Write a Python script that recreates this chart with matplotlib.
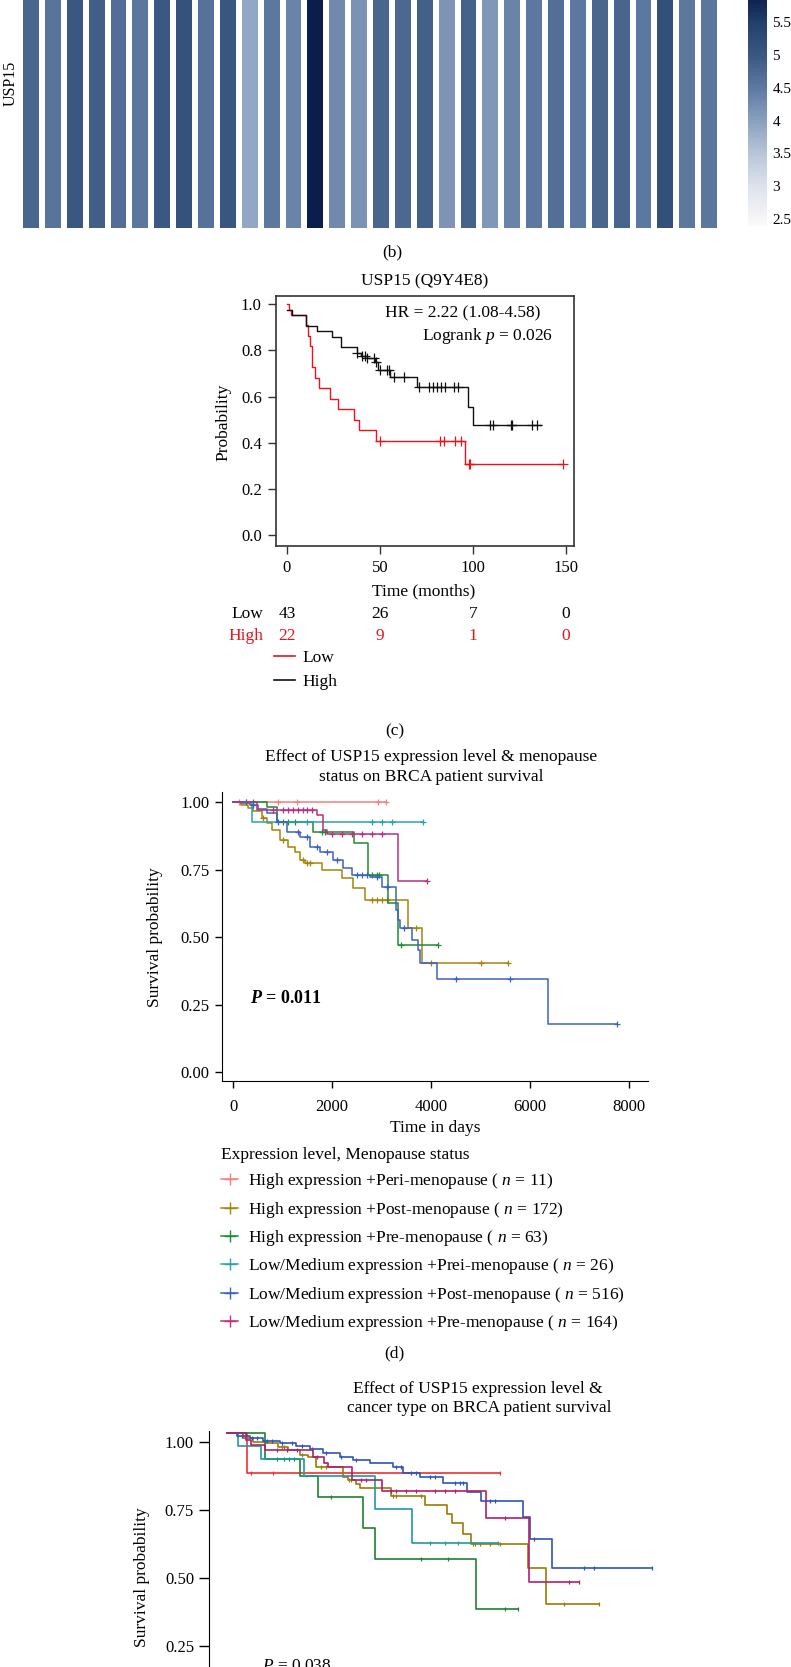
import numpy as np
import matplotlib
matplotlib.use("Agg")
import matplotlib.pyplot as plt
from matplotlib.colors import LinearSegmentedColormap, Normalize
from matplotlib.lines import Line2D
from matplotlib.transforms import blended_transform_factory

plt.rcParams['font.family'] = ['Liberation Serif', 'DejaVu Serif']
plt.rcParams['mathtext.fontset'] = 'custom'
plt.rcParams['mathtext.rm'] = 'Liberation Serif'
plt.rcParams['mathtext.it'] = 'Liberation Serif:italic'
plt.rcParams['mathtext.bf'] = 'Liberation Serif:bold'
plt.rcParams['mathtext.bfit'] = 'Liberation Serif:italic:bold'

# ---- data ----
# (b) USP15 expression heatmap, one cell per sample
heat_vals = [4.78, 4.57, 5.02, 4.90, 4.66, 4.53, 5.00, 5.12, 4.60, 5.05, 3.90, 4.52,
             4.35, 5.92, 4.28, 4.18, 4.78, 4.75, 4.88, 4.15, 4.85, 4.12, 4.35, 4.50,
             4.65, 4.50, 4.78, 4.80, 4.50, 5.15, 4.52, 4.55]
cbar_ticks = [2.5, 3, 3.5, 4, 4.5, 5, 5.5]

# (c) Kaplan-Meier, months
c_low_t = [0, 1, 2.5, 10.4, 11.2, 12.2, 13.5, 14.9, 17.4, 23.3, 27.6, 35.9, 38.8, 48.1, 96, 148.7]
c_low_s = [1.0, 0.977, 0.954, 0.909, 0.864, 0.818, 0.727, 0.682, 0.636, 0.591, 0.545, 0.5, 0.455, 0.409, 0.307, 0.307]
c_low_cens = [49.9, 82.2, 84.4, 90.7, 93.7, 97.8, 98.7, 148.7]
c_high_t = [0, 2.7, 10.4, 16.2, 24.2, 29.1, 38, 39.8, 43, 47.6, 48.8, 55.3, 70, 97.3, 100, 136.8]
c_high_s = [0.977, 0.954, 0.907, 0.884, 0.86, 0.814, 0.79, 0.777, 0.766, 0.748, 0.716, 0.684, 0.64, 0.555, 0.476, 0.476]
c_high_cens = [38, 40.4, 42.2, 43, 46.7, 48.1, 50.3, 53.9, 55.2, 57.8, 63.2, 70.9, 76.3, 78.6,
               80.8, 83, 85.3, 90.1, 91.9, 109.5, 110.8, 120.6, 121.2, 132, 134.6]
risk_times = [0, 50, 100, 150]
risk_low = [43, 26, 7, 0]
risk_high = [22, 9, 1, 0]

# (d) menopause status, days
d_labels = ['High expression +Peri-menopause ( $n$ = 11)',
            'High expression +Post-menopause ( $n$ = 172)',
            'High expression +Pre-menopause ( $n$ = 63)',
            'Low/Medium expression +Prei-menopause ( $n$ = 26)',
            'Low/Medium expression +Post-menopause ( $n$ = 516)',
            'Low/Medium expression +Pre-menopause ( $n$ = 164)']
d_colors = ['#F47F80', '#A4840A', '#1E8C32', '#2AA3A8', '#3D62BE', '#B8307F']
d_times = [
    [0, 3080],
    [0, 150, 300, 404, 573, 675, 776, 944, 1112, 1247, 1349, 1450, 1787, 2191, 2426, 2663, 3538, 3808, 5560],
    [0, 675, 890, 1618, 2440, 2730, 3134, 3336, 4145],
    [0, 378, 3829],
    [0, 150, 338, 500, 675, 877, 1080, 1349, 1551, 1753, 2022, 2224, 2393, 2764, 3000, 3290, 3336,
     3370, 3606, 3741, 3774, 4111, 6369, 7751],
    [0, 473, 1686, 1820, 1888, 3336, 3910],
]
d_surv = [
    [1.0, 1.0],
    [1.0, 0.99, 0.978, 0.966, 0.94, 0.921, 0.896, 0.859, 0.835, 0.816, 0.785, 0.773, 0.748, 0.718,
     0.681, 0.637, 0.533, 0.403, 0.403],
    [1.0, 0.98, 0.927, 0.888, 0.847, 0.73, 0.625, 0.471, 0.471],
    [1.0, 0.927, 0.927],
    [1.0, 0.995, 0.989, 0.975, 0.958, 0.927, 0.89, 0.872, 0.835, 0.816, 0.785, 0.755, 0.73, 0.724,
     0.687, 0.60, 0.563, 0.533, 0.489, 0.452, 0.403, 0.344, 0.179, 0.179],
    [1.0, 0.97, 0.95, 0.896, 0.88, 0.708, 0.708],
]
d_cens = [
    [120, 250, 910, 1280, 2920, 3080],
    [600, 1000, 1400, 1500, 1550, 2800, 2900, 3000, 3100, 3700, 4000, 5000, 5560],
    [250, 400, 1000, 1100, 1250, 1800, 1850, 2800, 2900, 2950, 3400, 4145],
    [1500, 2800, 3000, 3200, 3829],
    [400, 900, 1300, 1500, 1700, 1900, 2100, 2500, 2600, 2700, 2900, 3100, 3450, 4500, 5600, 7751],
    [800, 1000, 1100, 1200, 1300, 1400, 1500, 1600, 2000, 2200, 2400, 2600, 2800, 3000, 3910],
]

# (e) cancer type, days
e_colors = ['#EE3030', '#9C7A05', '#1E8030', '#1E9AA0', '#2E55B5', '#B0206E']
e_times = [
    [0, 396, 5501],
    [0, 316, 517, 788, 1022, 1225, 1461, 1628, 1798, 2335, 2437, 2606, 2673, 3313, 3986, 4424, 4525,
     4761, 4909, 6073, 6430, 7501],
    [0, 768, 1475, 1831, 2735, 2976, 5010, 5871],
    [0, 214, 687, 1541, 2976, 3737, 5467],
    [0, 200, 450, 720, 1057, 1393, 1663, 1932, 2269, 2538, 2875, 3346, 3548, 3885, 4356, 4845, 5111,
     5972, 6107, 6545, 8578],
    [0, 384, 485, 768, 1730, 1945, 2033, 2518, 3131, 5212, 6087, 7097],
]
e_surv = [
    [1.0, 0.853, 0.853],
    [1.0, 0.982, 0.969, 0.963, 0.951, 0.939, 0.92, 0.912, 0.878, 0.841, 0.829, 0.814, 0.798, 0.771,
     0.737, 0.705, 0.67, 0.632, 0.594, 0.504, 0.373, 0.373],
    [1.0, 0.906, 0.843, 0.765, 0.653, 0.539, 0.354, 0.354],
    [1.0, 0.955, 0.906, 0.843, 0.721, 0.598, 0.598],
    [1.0, 0.99, 0.981, 0.973, 0.963, 0.953, 0.941, 0.926, 0.914, 0.902, 0.892, 0.877, 0.855, 0.841,
     0.816, 0.786, 0.753, 0.694, 0.611, 0.504, 0.504],
    [1.0, 0.975, 0.956, 0.939, 0.914, 0.89, 0.875, 0.829, 0.788, 0.688, 0.453, 0.453],
]
e_cens = [
    [485, 922, 5501],
    [1100, 1150, 1500, 1900, 2000, 2450, 2500, 3350, 3400, 3900, 4950, 5000, 5100, 5300, 5500, 6800, 7501],
    [1000, 1150, 1250, 1340, 2100, 3900, 4450, 5600, 5871],
    [4100, 4400, 4650, 5467],
    [300, 500, 600, 800, 900, 1100, 1300, 1500, 1700, 2000, 2300, 2600, 3400, 3500, 3700, 3800,
     4100, 4200, 4600, 4700, 4750, 5300, 5400, 6200, 7200, 7400, 8578],
    [1000, 1200, 1400, 1800, 2700, 2800, 3300, 3400, 3600, 3800, 4200, 4400, 4600, 5600, 6900, 7097],
]

# ---- layout helpers (pixel coords of the 791x1667 canvas) ----
W, H = 791, 1667
fig = plt.figure(figsize=(W / 100, H / 100), dpi=100)


def box(l, t, r, b):
    return [l / W, 1 - b / H, (r - l) / W, (b - t) / H]


def fx(x):
    return x / W


def fy(y):
    return 1 - y / H


def km(ax, t, s, cens, color, marker, ms, lw=1.0):
    ax.step(t, s, where='post', color=color, lw=lw)
    idx = np.searchsorted(t, cens, side='right') - 1
    ax.plot(cens, np.asarray(s)[idx], ls='none', marker=marker, color=color, ms=ms, mew=0.9)


# ---- (b) heatmap ----
cmap = LinearSegmentedColormap.from_list('usp', [
    (0.0, '#fcfafa'), ((3.0 - 2.39) / 3.53, '#dce2ec'), ((3.5 - 2.39) / 3.53, '#b8c5d8'),
    ((4.0 - 2.39) / 3.53, '#8aa0bf'), ((4.5 - 2.39) / 3.53, '#5d79a0'),
    ((5.0 - 2.39) / 3.53, '#3b5882'), ((5.5 - 2.39) / 3.53, '#233f6c'), (1.0, '#0a1d4c')])
norm = Normalize(2.39, 5.92)
ax_b = fig.add_axes(box(20, -40, 720, 231))
mesh = ax_b.pcolormesh(np.arange(len(heat_vals) + 1), [0, 1], np.array([heat_vals]),
                       cmap=cmap, norm=norm, edgecolors='white', linewidth=4.2)
ax_b.set_xlim(0, len(heat_vals))
ax_b.set_ylim(0, 1)
ax_b.axis('off')
fig.text(fx(11), fy(83), 'USP15', rotation=90, ha='center', va='center', fontsize=11.5)

cax = fig.add_axes(box(748, -5, 767, 226))
cb = fig.colorbar(mesh, cax=cax, ticks=cbar_ticks)
cb.outline.set_visible(False)
cb.ax.set_yticklabels(['%g' % v for v in cbar_ticks])
cax.tick_params(length=0, pad=4, labelsize=11)
fig.text(fx(392), fy(252), '(b)', ha='center', va='center', fontsize=12.5)

# ---- (c) KM months ----
ax_c = fig.add_axes(box(275.7, 296, 574, 545.7))
km(ax_c, c_low_t, c_low_s, c_low_cens, '#E8141C', '+', 7)
km(ax_c, c_high_t, c_high_s, c_high_cens, '#111111', '+', 7)
ax_c.set_xlim(-6, 154.5)
ax_c.set_ylim(-0.046, 1.036)
ax_c.set_xticks([0, 50, 100, 150])
ax_c.set_yticks([0, 0.2, 0.4, 0.6, 0.8, 1.0])
ax_c.set_yticklabels(['%.1f' % v for v in [0, 0.2, 0.4, 0.6, 0.8, 1.0]])
ax_c.tick_params(direction='out', length=6, width=1, labelsize=12, pad=4, color='#333333')
for sp in ax_c.spines.values():
    sp.set_linewidth(1.2)
    sp.set_color('#333333')
ax_c.set_xlabel('Time (months)', fontsize=12.5)
ax_c.xaxis.label.set_va('center')
ax_c.xaxis.set_label_coords(0.497, (545.7 - 591) / 249.7)
ax_c.set_ylabel('Probability', fontsize=12.5)
ax_c.yaxis.label.set_va('center')
ax_c.yaxis.set_label_coords((223 - 275.7) / 298.3, 0.495)
fig.text(fx(425), fy(281), 'USP15 (Q9Y4E8)', ha='center', va='center', fontsize=12.5)
fig.text(fx(463), fy(313), 'HR = 2.22 (1.08-4.58)', ha='center', va='center', fontsize=12.5)
fig.text(fx(487), fy(336), 'Logrank $p$ = 0.026', ha='center', va='center', fontsize=12.5)

tr = blended_transform_factory(ax_c.transData, fig.transFigure)
fig.text(fx(263), fy(614), 'Low', ha='right', va='center', fontsize=12.5)
fig.text(fx(263), fy(636), 'High', ha='right', va='center', fontsize=12.5, color='#E8141C')
for x, lo, hi in zip(risk_times, risk_low, risk_high):
    ax_c.text(x, fy(614), str(lo), transform=tr, ha='center', va='center', fontsize=12.5)
    ax_c.text(x, fy(636), str(hi), transform=tr, ha='center', va='center', fontsize=12.5, color='#E8141C')

ax_c.legend(handles=[Line2D([], [], color='#E8141C', lw=1.2), Line2D([], [], color='#111111', lw=1.2)],
            labels=['Low', 'High'], loc='upper left', bbox_to_anchor=(fx(274), fy(650)),
            bbox_transform=fig.transFigure, frameon=False, fontsize=12.5, handlelength=1.2,
            handletextpad=0.45, labelspacing=0.42, borderpad=0, borderaxespad=0)
fig.text(fx(395), fy(731), '(c)', ha='center', va='center', fontsize=12.5)

# ---- (d) menopause ----
ax_d = fig.add_axes(box(222.3, 791.7, 648, 1080.7))
for t, s, c, col in zip(d_times, d_surv, d_cens, d_colors):
    km(ax_d, t, s, c, col, '+', 4.5, lw=1.1)
ax_d.set_xlim(-222, 8385)
ax_d.set_ylim(-0.031, 1.038)
ax_d.set_xticks([0, 2000, 4000, 6000, 8000])
ax_d.set_yticks([0, 0.25, 0.5, 0.75, 1.0])
ax_d.set_yticklabels(['0.00', '0.25', '0.50', '0.75', '1.00'])
ax_d.spines['top'].set_visible(False)
ax_d.spines['right'].set_visible(False)
ax_d.tick_params(direction='out', length=5, width=1, labelsize=12, pad=4)
ax_d.tick_params(axis='x', pad=8)
ax_d.set_xlabel('Time in days', fontsize=12.5)
ax_d.xaxis.label.set_va('center')
ax_d.xaxis.set_label_coords((435 - 222.3) / 425.7, (1080.7 - 1128) / 289)
ax_d.set_ylabel('Survival probability', fontsize=12.5)
ax_d.yaxis.label.set_va('center')
ax_d.yaxis.set_label_coords((155 - 222.3) / 425.7, (1080.7 - 937) / 289)
fig.text(fx(431), fy(757), 'Effect of USP15 expression level & menopause', ha='center', va='center', fontsize=12.5)
fig.text(fx(431), fy(777), 'status on BRCA patient survival', ha='center', va='center', fontsize=12.5)
fig.text(fx(250), fy(998), r'$\mathbfit{P}$ = 0.011', ha='left', va='center', fontsize=13, fontweight='bold')

d_handles = [Line2D([], [], color=c, lw=1.1, marker='+', ms=8, mew=1) for c in d_colors]
ax_d.legend(handles=d_handles, labels=d_labels, title='Expression level, Menopause status',
            loc='upper left', bbox_to_anchor=(fx(221), fy(1147)), bbox_transform=fig.transFigure,
            frameon=False, fontsize=12.5, title_fontsize=12.5, alignment='left', handlelength=1.0,
            handletextpad=0.55, labelspacing=0.48, borderpad=0, borderaxespad=0)
fig.text(fx(394), fy(1353), '(d)', ha='center', va='center', fontsize=12.5)

# ---- (e) cancer type ----
ax_e = fig.add_axes(box(209.3, 1430.7, 700, 1722))
ax_e.set_xlim(-364, 9541)
ax_e.set_ylim(-0.029, 1.0404)
ax_e.set_yticks([0.25, 0.5, 0.75, 1.0])
ax_e.set_yticklabels(['0.25', '0.50', '0.75', '1.00'])
ax_e.set_xticks([])
for k in ['top', 'right', 'bottom']:
    ax_e.spines[k].set_visible(False)
ax_e.tick_params(direction='out', length=7, width=1, labelsize=12, pad=4)
ax_e.set_ylabel('Survival probability', fontsize=12.5)
ax_e.yaxis.label.set_va('center')
ax_e.yaxis.set_label_coords((141.7 - 209.3) / 490.7, (1722 - 1576.7) / 291.3)

# curve layer sits a few pixels above the tick layer, as in the source image
ax_e2 = fig.add_axes(box(209.3, 1430.7 - 8.4, 700, 1722 - 8.4), frameon=False)
for t, s, c, col in zip(e_times, e_surv, e_cens, e_colors):
    km(ax_e2, t, s, c, col, '|', 3.5, lw=1.2)
ax_e2.set_xlim(-364, 9541)
ax_e2.set_ylim(-0.029, 1.0404)
ax_e2.set_xticks([])
ax_e2.set_yticks([])
fig.text(fx(478), fy(1389), 'Effect of USP15 expression level &', ha='center', va='center', fontsize=12.5)
fig.text(fx(479), fy(1408), 'cancer type on BRCA patient survival', ha='center', va='center', fontsize=12.5)
fig.text(fx(261.7), fy(1666), '$P$ = 0.038', ha='left', va='center', fontsize=12.5)

fig.savefig('out.png', dpi=100)
